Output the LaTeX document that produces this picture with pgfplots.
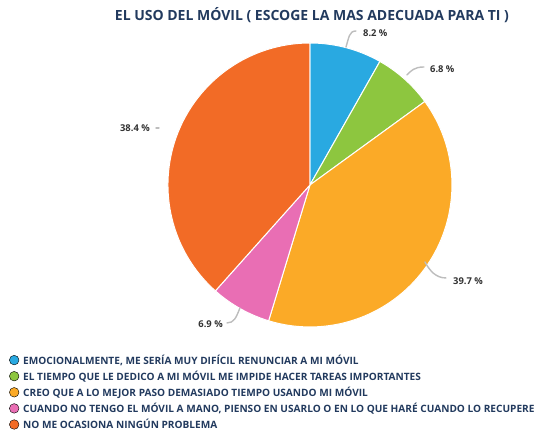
\documentclass[border=0pt]{standalone}
\usepackage{fontspec}
\setmainfont{Open Sans}
\usepackage{pgfplots}
\usepackage{pgfplotstable}
\pgfplotsset{compat=1.18}

\definecolor{cblue}{HTML}{29A9E1}
\definecolor{cgreen}{HTML}{8DC63F}
\definecolor{corange}{HTML}{FBAA27}
\definecolor{cpink}{HTML}{E96EB4}
\definecolor{cred}{HTML}{F26B26}
\definecolor{navy}{HTML}{223A5E}
\definecolor{leader}{HTML}{BDBDBD}

% shares in percent, clockwise from 12 o'clock
\pgfplotstableread{
value
8.2
6.8
39.7
6.9
38.4
}\piedata

\pgfplotsset{
  pielegend/.style={legend image code/.code={\fill[##1] (0.25em,0pt) circle (4.8pt);}},
}

\begin{document}
\begin{tikzpicture}
\begin{axis}[
    x=1pt, y=1pt,
    xmin=0, xmax=536, ymin=0, ymax=436,
    hide axis, clip=false,
    legend cell align=left,
    legend style={
        at={(axis cs:9,83)}, anchor=north west,
        draw=none, fill=none,
        font=\fontsize{10.1}{11}\bfseries\color{navy},
        row sep=2.2pt, inner sep=0pt,
        nodes={inner sep=1.5pt},
        /tikz/every odd column/.append style={column sep=2.5pt},
    },
]
% keep the picture at the full frame
\path (axis cs:0,0) rectangle (axis cs:536,436);

\addlegendimage{pielegend, fill=cblue}
\addlegendentry{EMOCIONALMENTE, ME SERÍA MUY DIFÍCIL RENUNCIAR A MI MÓVIL}
\addlegendimage{pielegend, fill=cgreen}
\addlegendentry{EL TIEMPO QUE LE DEDICO A MI MÓVIL ME IMPIDE HACER TAREAS IMPORTANTES}
\addlegendimage{pielegend, fill=corange}
\addlegendentry{CREO QUE A LO MEJOR PASO DEMASIADO TIEMPO USANDO MI MÓVIL}
\addlegendimage{pielegend, fill=cpink}
\addlegendentry{CUANDO NO TENGO EL MÓVIL A MANO, PIENSO EN USARLO O EN LO QUE HARÉ CUANDO LO RECUPERE}
\addlegendimage{pielegend, fill=cred}
\addlegendentry{NO ME OCASIONA NINGÚN PROBLEMA}

\pgfplotsextra{
  \gdef\angA{90}
  \foreach \c [count=\i from 0] in {cblue,cgreen,corange,cpink,cred} {
    \pgfplotstablegetelem{\i}{value}\of\piedata
    \pgfmathsetmacro\angB{\angA-3.6*\pgfplotsretval}
    \filldraw[fill=\c, draw=white, line width=1pt, line join=round]
      (axis cs:310,251) -- ++(\angA:142pt)
      arc[start angle=\angA, end angle=\angB, radius=142pt] -- cycle;
    \global\let\angA\angB
  }
}

% leader lines
\draw[leader, line width=1.4pt, line cap=round] (axis cs:346,389) .. controls (axis cs:349,398) and (axis cs:349,405) .. (axis cs:356,405);
\draw[leader, line width=1.4pt, line cap=round] (axis cs:407,361) .. controls (axis cs:411,365) and (axis cs:414,369) .. (axis cs:424,369);
\draw[leader, line width=1.4pt, line cap=round] (axis cs:425,174) .. controls (axis cs:430,165) and (axis cs:436,158) .. (axis cs:446,158);
\draw[leader, line width=1.4pt, line cap=round] (axis cs:240,128) .. controls (axis cs:236,118) and (axis cs:234,113) .. (axis cs:227,113);
\draw[leader, line width=1.4pt, line cap=round] (axis cs:156,308) -- (axis cs:159,308);

\begin{scope}[every node/.style={font=\fontsize{9.4}{11}\bfseries, text=black!80, inner sep=0pt}]
\node[anchor=west] at (axis cs:363,403) {8.2 \%};
\node[anchor=west] at (axis cs:430,367) {6.8 \%};
\node[anchor=west] at (axis cs:453,155) {39.7 \%};
\node[anchor=east] at (axis cs:223,112) {6.9 \%};
\node[anchor=east] at (axis cs:150,308) {38.4 \%};
\end{scope}

\node[font=\fontsize{14}{15}\bfseries, text=navy] at (axis cs:312,421)
  {EL USO DEL MÓVIL ( ESCOGE LA MAS ADECUADA PARA TI )};
\end{axis}
\end{tikzpicture}
\end{document}
